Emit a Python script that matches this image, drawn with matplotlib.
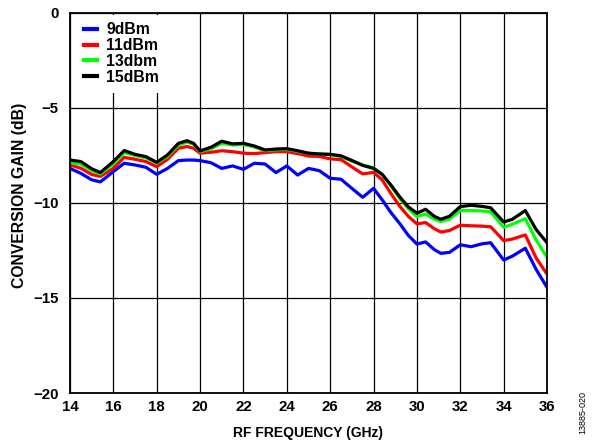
import matplotlib
matplotlib.use('Agg')
import matplotlib.pyplot as plt
from matplotlib.ticker import MultipleLocator

plt.rcParams['font.family'] = ['Liberation Sans', 'DejaVu Sans']

# RF frequency (GHz)
freq = [14, 14.5, 15, 15.4, 16, 16.5, 17, 17.5, 18, 18.5, 19, 19.4, 19.7, 20, 20.5,
        21, 21.5, 22, 22.5, 23, 23.5, 24, 24.5, 25, 25.5, 26, 26.5, 27, 27.5, 28,
        28.4, 28.8, 29.2, 29.6, 30, 30.4, 30.8, 31.1, 31.5, 32, 32.5, 33, 33.4, 34,
        34.4, 35, 35.5, 36]

# conversion gain (dB) per LO drive level
gain_9dbm = [-8.18, -8.44, -8.78, -8.89, -8.35, -7.91, -8.0, -8.12, -8.49, -8.18,
             -7.77, -7.74, -7.74, -7.77, -7.88, -8.18, -8.05, -8.23, -7.91, -7.95,
             -8.4, -8.05, -8.53, -8.18, -8.3, -8.7, -8.75, -9.23, -9.7, -9.23,
             -9.84, -10.5, -11.07, -11.7, -12.16, -12.05, -12.45, -12.65, -12.6, -12.2,
             -12.3, -12.15, -12.09, -13.0, -12.8, -12.38, -13.5, -14.44]
gain_11dbm = [-8.0, -8.17, -8.5, -8.6, -8.18, -7.6, -7.7, -7.82, -8.09, -7.7,
              -7.12, -7.03, -7.12, -7.38, -7.33, -7.25, -7.3, -7.38, -7.4, -7.35,
              -7.3, -7.3, -7.4, -7.53, -7.55, -7.68, -7.72, -8.1, -8.47, -8.39,
              -8.79, -9.5, -10.16, -10.7, -11.1, -11.03, -11.35, -11.53, -11.45, -11.17,
              -11.2, -11.22, -11.25, -11.98, -11.9, -11.68, -12.9, -13.74]
gain_13dbm = [-7.88, -7.95, -8.3, -8.47, -7.95, -7.35, -7.5, -7.62, -7.9, -7.55,
              -6.95, -6.8, -6.9, -7.3, -7.15, -6.86, -6.95, -6.92, -7.05, -7.25,
              -7.2, -7.18, -7.28, -7.38, -7.42, -7.45, -7.55, -7.8, -8.0, -8.15,
              -8.5, -9.1, -9.75, -10.3, -10.72, -10.58, -10.85, -10.98, -10.85, -10.4,
              -10.4, -10.42, -10.46, -11.28, -11.12, -10.83, -11.95, -12.86]
gain_15dbm = [-7.74, -7.82, -8.2, -8.4, -7.82, -7.24, -7.44, -7.56, -7.86, -7.47,
              -6.86, -6.72, -6.86, -7.26, -7.07, -6.75, -6.89, -6.86, -7.0, -7.21,
              -7.16, -7.14, -7.25, -7.38, -7.42, -7.44, -7.52, -7.76, -8.02, -8.18,
              -8.5, -9.05, -9.67, -10.2, -10.54, -10.33, -10.7, -10.86, -10.7, -10.19,
              -10.12, -10.18, -10.25, -11.0, -10.86, -10.4, -11.4, -12.09]

labels = ['9dBm', '11dBm', '13dbm', '15dBm']
colors = ['#0000ff', '#ff0000', '#00ff00', '#000000']

fig = plt.figure(figsize=(5.96, 4.47), dpi=100)
ax = fig.add_axes([0.1174, 0.1208, 0.8004, 0.8502])

for g, lab, c in zip([gain_9dbm, gain_11dbm, gain_13dbm, gain_15dbm], labels, colors):
    ax.plot(freq, g, color=c, lw=2.3, label=lab, solid_joinstyle='round')

ax.set_xlim(14, 36)
ax.set_ylim(-20, 0)
ax.xaxis.set_major_locator(MultipleLocator(2))
ax.yaxis.set_major_locator(MultipleLocator(5))
ax.grid(True, color='black', lw=0.9)
ax.set_axisbelow(True)
ax.tick_params(length=0, labelsize=10.8)
ax.tick_params(axis='x', pad=5)
ax.tick_params(axis='y', pad=8)
for t in ax.get_xticklabels() + ax.get_yticklabels():
    t.set_fontweight('bold')
for s in ax.spines.values():
    s.set_linewidth(1.3)

ax.set_xlabel('RF FREQUENCY (GHz)', fontsize=10, fontweight='bold', labelpad=9)
ax.set_ylabel('CONVERSION GAIN (dB)', fontsize=11.3, fontweight='bold')
ax.yaxis.set_label_coords(-0.09, 0.521)

leg = ax.legend(loc='upper left', bbox_to_anchor=(0.01, 1.0), frameon=True, fancybox=False,
                edgecolor='none', facecolor='white', framealpha=1, handlelength=0.85,
                handletextpad=0.55, labelspacing=0.05, borderaxespad=0.1, borderpad=0.5,
                prop={'weight': 'bold', 'size': 11.3})
for line in leg.get_lines():
    line.set_linewidth(3)

fig.text(0.978, 0.078, '13885-020', rotation=90, fontsize=6.5, ha='center', va='center')

fig.savefig('out.png', dpi=100)
